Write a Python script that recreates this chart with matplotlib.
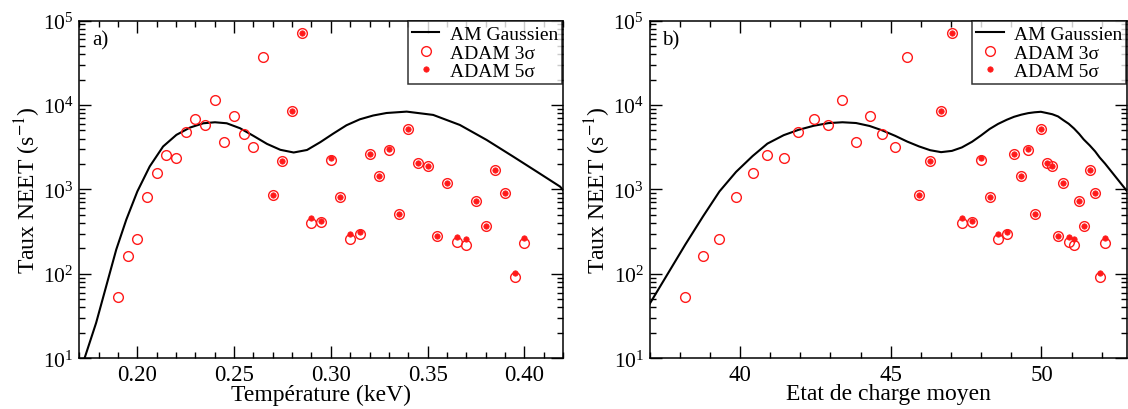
import numpy as np
import matplotlib
matplotlib.use("Agg")
import matplotlib.pyplot as plt
from matplotlib.ticker import LogLocator, LogFormatterMathtext, MultipleLocator

plt.rcParams['font.family'] = ['Liberation Serif', 'DejaVu Serif']
plt.rcParams['mathtext.fontset'] = 'stix'

# ---- data ----
temperature = [0.190, 0.195, 0.200, 0.205, 0.210, 0.215, 0.220, 0.225, 0.230, 0.235,
               0.240, 0.245, 0.250, 0.255, 0.260, 0.265, 0.270, 0.275, 0.280, 0.285,
               0.290, 0.295, 0.300, 0.305, 0.310, 0.315, 0.320, 0.325, 0.330, 0.335,
               0.340, 0.345, 0.350, 0.355, 0.360, 0.365, 0.370, 0.375, 0.380, 0.385,
               0.390, 0.395, 0.400]
charge = [38.19, 38.78, 39.32, 39.87, 40.42, 40.91, 41.45, 41.94, 42.44, 42.93,
          43.40, 43.85, 44.30, 44.72, 45.15, 45.55, 45.94, 46.31, 46.67, 47.03,
          47.36, 47.70, 48.00, 48.28, 48.56, 48.85, 49.09, 49.33, 49.56, 49.77,
          49.98, 50.18, 50.36, 50.55, 50.72, 50.90, 51.08, 51.25, 51.40, 51.60,
          51.78, 51.93, 52.11]
adam3 = [53, 163, 257, 819, 1545, 2567, 2323, 4840, 6840, 5810,
         11550, 3620, 7480, 4470, 3160, 36560, 849, 2145, 8570, 70800,
         396, 415, 2203, 811, 257, 295, 2660, 1426, 2890, 511,
         5160, 2030, 1890, 279, 1200, 239, 218, 734, 372, 1706,
         914, 93, 234]
# ADAM 5 sigma exists from T = 0.270 keV on (index 16 onward)
adam5_start = 16
adam5 = [849, 2145, 8570, 70800, 462, 425, 2323, 811, 296, 313,
         2660, 1426, 3020, 511, 5160, 2030, 1890, 279, 1200, 273,
         257, 734, 372, 1706, 914, 101, 266]

am_T = [0.1727, 0.1787, 0.1839, 0.1891, 0.1943, 0.2000, 0.2064, 0.2133, 0.2202, 0.2272,
        0.2341, 0.2401, 0.2462, 0.2531, 0.2600, 0.2670, 0.2739, 0.2808, 0.2877, 0.2946,
        0.3012, 0.3081, 0.3150, 0.3219, 0.3288, 0.3392, 0.3529, 0.3667, 0.3805, 0.3943,
        0.4064, 0.4185, 0.4200]
am_T_rate = [10, 26.3, 71.4, 194, 439, 946, 1871, 3221, 4426, 5395,
             6067, 6237, 6067, 5297, 4305, 3459, 2944, 2735, 2930, 3630,
             4570, 5750, 6760, 7500, 8030, 8337, 7621, 5794, 3855, 2443,
             1626, 1079, 982]

am_Z = [36.97, 38.19, 38.78, 39.32, 39.87, 40.42, 40.91, 41.45, 41.94, 42.44,
        42.93, 43.40, 43.85, 44.30, 44.72, 45.15, 45.55, 45.94, 46.31, 46.67,
        47.03, 47.36, 47.70, 48.00, 48.28, 48.56, 48.85, 49.09, 49.33, 49.56,
        49.77, 49.98, 50.18, 50.36, 50.55, 50.72, 50.90, 51.08, 51.25, 51.40,
        51.60, 51.78, 51.93, 52.11, 52.85]
am_Z_rate = [42, 223, 482, 946, 1611, 2483, 3483, 4385, 5070, 5662,
             6095, 6237, 6109, 5636, 5000, 4305, 3681, 3228, 2911, 2761,
             2858, 3141, 3670, 4365, 5190, 5960, 6680, 7240, 7670, 8000,
             8185, 8299, 8017, 7762, 7311, 6622, 5998, 5260, 4539, 3908,
             3319, 2818, 2388, 2018, 942]

RED = '#ff1a1a'

W, H = 1128, 410
fig = plt.figure(figsize=(W / 100, H / 100), dpi=100)

def px_axes(l, r, t, b):
    return fig.add_axes([l / W, (H - b) / H, (r - l) / W, (b - t) / H])

axL = px_axes(79.3, 563.0, 21.5, 359.3)
axR = px_axes(649.5, 1127.4, 21.5, 359.3)

panels = [
    (axL, temperature, am_T, am_T_rate, 'a)', 'Température (keV)', (0.17, 0.42), 0.05, 0.01,
     lambda v, p: f'{v:.2f}'),
    (axR, charge, am_Z, am_Z_rate, 'b)', 'Etat de charge moyen', (37, 52.85), 5, 1,
     lambda v, p: f'{v:.0f}'),
]

for ax, xs, cx, cy, tag, xlabel, xlim, maj, mnr, fmt in panels:
    ax.plot(cx, cy, color='black', lw=1.5, label='AM Gaussien', zorder=2)
    ax.plot(xs, adam3, linestyle='none', marker='o', ms=7.0, mfc='none', mec=RED,
            mew=1.0, label='ADAM 3σ', zorder=3)
    ax.plot(xs[adam5_start:], adam5, linestyle='none', marker='o', ms=3.9, mfc=RED,
            mec=RED, mew=0.5, label='ADAM 5σ', zorder=4)
    ax.set_yscale('log')
    ax.set_ylim(10, 1e5)
    ax.set_xlim(*xlim)
    ax.xaxis.set_major_locator(MultipleLocator(maj))
    ax.xaxis.set_minor_locator(MultipleLocator(mnr))
    ax.xaxis.set_major_formatter(plt.FuncFormatter(fmt))
    ax.yaxis.set_major_locator(LogLocator(base=10, numticks=10))
    ax.yaxis.set_minor_locator(LogLocator(base=10, subs=np.arange(2, 10), numticks=20))
    ax.yaxis.set_major_formatter(LogFormatterMathtext())
    ax.tick_params(which='both', direction='in', top=True, right=True, width=1.0)
    ax.tick_params(axis='x', labelsize=16.5, pad=4)
    ax.tick_params(axis='y', labelsize=15.5, pad=4)
    ax.tick_params(which='major', length=8.5)
    ax.tick_params(which='minor', length=4.5)
    for s in ax.spines.values():
        s.set_linewidth(1.1)
    ax.set_xlabel(xlabel, fontsize=17, labelpad=-1)
    ax.set_ylabel('Taux NEET (s$^{-1}$)', fontsize=17, labelpad=0)
    ax.text(0.027, 0.972, tag, transform=ax.transAxes,
            fontsize=15, va='top', ha='left')
    leg = ax.legend(loc='upper right', fontsize=14, frameon=True, fancybox=False,
                    edgecolor='black', borderaxespad=0.05, borderpad=0.2,
                    labelspacing=0.05, handlelength=1.4, handletextpad=0.55)
    leg.get_frame().set_linewidth(1.1)

fig.savefig('out.png', dpi=100)
